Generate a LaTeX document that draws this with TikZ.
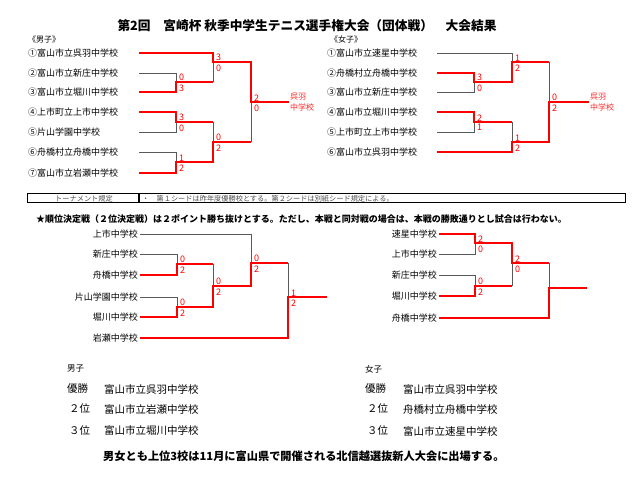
\documentclass[tikz,border=0pt]{standalone}
\usepackage{fontspec}
\setmainfont{Noto Sans CJK JP}
\begin{document}
\begin{tikzpicture}[x=1pt, y=-1pt,
  lose/.style={draw=black!65, line width=0.7pt},
  win/.style={draw=red, line width=2.2pt},
  school/.style={font=\fontsize{9}{10}\selectfont, inner sep=0pt, anchor=west, text width=111pt, align=left},
  seed/.style={font=\fontsize{9}{10}\selectfont, inner sep=0pt, inner xsep=2pt, anchor=east},
  score/.style={text=red, font=\fontsize{9}{9}\selectfont, inner sep=0.8pt, xshift=2pt},
  champ/.style={text=red!85!white, font=\fontsize{8}{10.5}\selectfont, inner sep=1pt, anchor=west, align=left},
  rulecell/.style={draw, line width=0.6pt, inner sep=0pt, minimum height=9pt, anchor=west},
  ruletext/.style={inner sep=0pt, text=black!70, font=\fontsize{7.2}{8}\selectfont},
  res/.style={font=\fontsize{10.5}{12}\selectfont, inner sep=0pt, anchor=west}]
\useasboundingbox (0,0) rectangle (640,496);
\node[font=\bfseries\fontsize{12.7}{14}\selectfont] (title) at (307,26) {第2回　宮崎杯 秋季中学生テニス選手権大会（団体戦）　大会結果};
\node[font=\fontsize{8}{9}\selectfont, anchor=west, inner sep=0pt] (boys) at (28,39) {《男子》};
\node[font=\fontsize{8}{9}\selectfont, anchor=west, inner sep=0pt] (girls) at (330,39) {《女子》};
\node[school] (B1) at (28,53) {①富山市立呉羽中学校};
\node[school] (B2) at (28,73) {②富山市立新庄中学校};
\node[school] (B3) at (28,92) {③富山市立堀川中学校};
\node[school] (B4) at (28,112) {④上市町立上市中学校};
\node[school] (B5) at (28,132) {⑤片山学園中学校};
\node[school] (B6) at (28,152) {⑥舟橋村立舟橋中学校};
\node[school] (B7) at (28,173) {⑦富山市立岩瀬中学校};
\coordinate (BM1) at (176,82);
\coordinate (BM2) at (176,122);
\coordinate (BM3) at (176,162);
\coordinate (BM4) at (213,62);
\coordinate (BM5) at (213,142);
\coordinate (BM6) at (251,102);
\node[champ] (Bwin) at (289,102) {呉羽\\中学校};
\draw[lose] (B2.east) -| (BM1);
\draw[lose] (B5.east) -| (BM2);
\draw[lose] (B6.east) -| (BM3);
\draw[lose] (BM1 -| BM4) -- (BM4);
\draw[lose] (BM2 -| BM5) -- (BM5);
\draw[lose] (BM5 -| BM6) -- (BM6);
\draw[win] (B1.east) -| (BM4) -| (BM6) -- (Bwin.west);
\draw[win] (B3.east) -| (BM1) -- (BM1 -| BM4);
\draw[win] (B4.east) -| (BM2) -- (BM2 -| BM5);
\draw[win] (B7.east) -| (BM3) -| (BM5) -- (BM5 -| BM6);
\node[score, above right] (BM1a) at (BM1) {0};
\node[score, below right, yshift=-1.5pt] (BM1b) at (BM1) {3};
\node[score, above right] (BM2a) at (BM2) {3};
\node[score, below right, yshift=-1.5pt] (BM2b) at (BM2) {0};
\node[score, above right] (BM3a) at (BM3) {1};
\node[score, below right, yshift=-1.5pt] (BM3b) at (BM3) {2};
\node[score, above right] (BM4a) at (BM4) {3};
\node[score, below right, yshift=-1.5pt] (BM4b) at (BM4) {0};
\node[score, above right] (BM5a) at (BM5) {0};
\node[score, below right, yshift=-1.5pt] (BM5b) at (BM5) {2};
\node[score, above right] (BM6a) at (BM6) {2};
\node[score, below right, yshift=-1.5pt] (BM6b) at (BM6) {0};
\node[school, text width=110pt] (G1) at (327,53) {①富山市立速星中学校};
\node[school, text width=110pt] (G2) at (327,73) {②舟橋村立舟橋中学校};
\node[school, text width=110pt] (G3) at (327,92) {③富山市立新庄中学校};
\node[school, text width=110pt] (G4) at (327,112) {④富山市立堀川中学校};
\node[school, text width=110pt] (G5) at (327,132) {⑤上市町立上市中学校};
\node[school, text width=110pt] (G6) at (327,152) {⑥富山市立呉羽中学校};
\coordinate (GM1) at (474,82);
\coordinate (GM2) at (474,122);
\coordinate (GM3) at (512,62);
\coordinate (GM4) at (512,142);
\coordinate (GM5) at (549,102);
\node[champ] (Gwin) at (589,102) {呉羽\\中学校};
\draw[lose] (G1.east) -| (GM3);
\draw[lose] (G3.east) -| (GM1);
\draw[lose] (G5.east) -| (GM2);
\draw[lose] (GM2 -| GM4) -- (GM4);
\draw[lose] (GM3 -| GM5) -- (GM5);
\draw[win] (G2.east) -| (GM1) -| (GM3) -- (GM3 -| GM5);
\draw[win] (G4.east) -| (GM2) -- (GM2 -| GM4);
\draw[win] (G6.east) -| (GM4) -| (GM5) -- (Gwin.west);
\node[score, above right] (GM1a) at (GM1) {3};
\node[score, below right, yshift=-1.5pt] (GM1b) at (GM1) {0};
\node[score, above right] (GM2a) at (GM2) {2};
\node[score, below right, yshift=-1.5pt] (GM2b) at (GM2) {1};
\node[score, above right] (GM3a) at (GM3) {1};
\node[score, below right, yshift=-1.5pt] (GM3b) at (GM3) {2};
\node[score, above right] (GM4a) at (GM4) {1};
\node[score, below right, yshift=-1.5pt] (GM4b) at (GM4) {2};
\node[score, above right] (GM5a) at (GM5) {0};
\node[score, below right, yshift=-1.5pt] (GM5b) at (GM5) {2};
\node[rulecell, minimum width=111pt] (rulehead) at (27,198) {};
\node[rulecell, minimum width=486pt] (rulebody) at (rulehead.east) {};
\node[ruletext, anchor=base] (ruleheadtext) at (84,201.2) {トーナメント規定};
\node[ruletext, anchor=base west] (rulebodytext) at (142,201.2) {・　第１シードは昨年度優勝校とする。第２シードは別紙シード規定による。};
\node[font=\bfseries\fontsize{9}{10}\selectfont, anchor=west, inner sep=0pt] (note) at (36,219) {★順位決定戦（２位決定戦）は２ポイント勝ち抜けとする。ただし、本戦と同対戦の場合は、本戦の勝敗通りとし試合は行わない。};
\node[seed] (LA) at (140,234) {上市中学校};
\node[seed] (LB) at (140,254) {新庄中学校};
\node[seed] (LC) at (140,275) {舟橋中学校};
\node[seed] (LD) at (140,297) {片山学園中学校};
\node[seed] (LE) at (140,317) {堀川中学校};
\node[seed] (LF) at (140,338) {岩瀬中学校};
\coordinate (LM1) at (177,264);
\coordinate (LM2) at (177,307);
\coordinate (LM3) at (213,286);
\coordinate (LM4) at (251,263);
\coordinate (LM5) at (288,297);
\coordinate (Lend) at (327,297);
\draw[lose] (LA.east) -| (LM4);
\draw[lose] (LB.east) -| (LM1);
\draw[lose] (LD.east) -| (LM2);
\draw[lose] (LM1 -| LM3) -- (LM3);
\draw[lose] (LM4 -| LM5) -- (LM5);
\draw[win] (LC.east) -| (LM1) -- (LM1 -| LM3);
\draw[win] (LE.east) -| (LM2) -| (LM3) -| (LM4) -- (LM4 -| LM5);
\draw[win] (LF.east) -| (LM5) -- (Lend);
\node[score, above right] (LM1a) at (LM1) {0};
\node[score, below right, yshift=-1.5pt] (LM1b) at (LM1) {2};
\node[score, above right] (LM2a) at (LM2) {0};
\node[score, below right, yshift=-1.5pt] (LM2b) at (LM2) {2};
\node[score, above right] (LM3a) at (LM3) {0};
\node[score, below right, yshift=-1.5pt] (LM3b) at (LM3) {2};
\node[score, above right] (LM4a) at (LM4) {0};
\node[score, below right, yshift=-1.5pt] (LM4b) at (LM4) {2};
\node[score, above right] (LM5a) at (LM5) {1};
\node[score, below right, yshift=-1.5pt] (LM5b) at (LM5) {2};
\node[seed] (RA) at (439,234) {速星中学校};
\node[seed] (RB) at (439,254) {上市中学校};
\node[seed] (RC) at (439,275) {新庄中学校};
\node[seed] (RD) at (439,296) {堀川中学校};
\node[seed] (RE) at (439,318) {舟橋中学校};
\coordinate (RM1) at (475,243);
\coordinate (RM2) at (475,286);
\coordinate (RM3) at (512,263);
\coordinate (RM4) at (549,288);
\coordinate (Rend) at (587,288);
\draw[lose] (RB.east) -| (RM1);
\draw[lose] (RC.east) -| (RM2);
\draw[lose] (RM2 -| RM3) -- (RM3);
\draw[lose] (RM3 -| RM4) -- (RM4);
\draw[win] (RA.east) -| (RM1) -| (RM3) -- (RM3 -| RM4);
\draw[win] (RD.east) -| (RM2) -- (RM2 -| RM3);
\draw[win] (RE.east) -| (RM4) -- (Rend);
\node[score, above right] (RM1a) at (RM1) {2};
\node[score, below right, yshift=-1.5pt] (RM1b) at (RM1) {0};
\node[score, above right] (RM2a) at (RM2) {0};
\node[score, below right, yshift=-1.5pt] (RM2b) at (RM2) {2};
\node[score, above right] (RM3a) at (RM3) {2};
\node[score, below right, yshift=-1.5pt] (RM3b) at (RM3) {0};
\node[res, font=\fontsize{8.5}{10}\selectfont] (boysres) at (67,369) {男子};
\node[res] (b1st) at (67,389) {優勝};
\node[res] (b1name) at (104,389) {富山市立呉羽中学校};
\node[res] (b2nd) at (69,409) {２位};
\node[res] (b2name) at (104,409) {富山市立岩瀬中学校};
\node[res] (b3rd) at (69,431) {３位};
\node[res] (b3name) at (104,431) {富山市立堀川中学校};
\node[res, font=\fontsize{8.5}{10}\selectfont] (girlsres) at (365,369) {女子};
\node[res] (g1st) at (365,389) {優勝};
\node[res] (g1name) at (403,389) {富山市立呉羽中学校};
\node[res] (g2nd) at (367,409) {２位};
\node[res] (g2name) at (403,409) {舟橋村立舟橋中学校};
\node[res] (g3rd) at (367,431) {３位};
\node[res] (g3name) at (403,431) {富山市立速星中学校};
\node[font=\bfseries\fontsize{11.2}{12}\selectfont, anchor=west, inner sep=0pt] (notice) at (103,456) {男女とも上位3校は11月に富山県で開催される北信越選抜新人大会に出場する。};
\end{tikzpicture}
\end{document}
